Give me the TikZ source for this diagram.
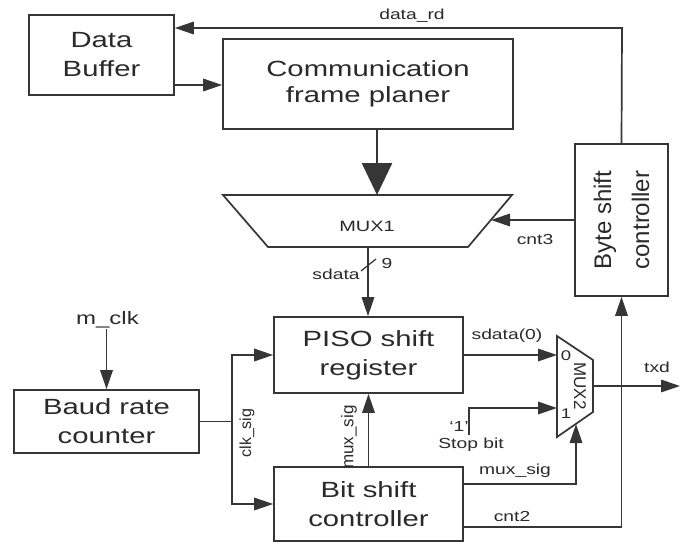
\documentclass[tikz,border=0pt]{standalone}
\usepackage{fontspec}
\setmainfont[FakeStretch=1.33]{Liberation Sans}
\newfontfamily\rotfont{Liberation Sans}
\usetikzlibrary{arrows.meta}
\definecolor{ln}{HTML}{363636}
\definecolor{tx}{HTML}{2A2A2A}
\begin{document}
\begin{tikzpicture}[x=1pt,y=-1pt,
  box/.style={draw=ln,line width=1.7pt,rectangle,inner sep=0pt,align=center,text=tx,font=\fontsize{22}{29}\selectfont},
  wire/.style={draw=ln,line width=1.7pt},
  tipa/.tip={Triangle[length=19pt,width=12.5pt]},
  arr/.style={wire,-tipa},
  lbl/.style={text=tx,inner sep=0pt,font=\fontsize{14.5}{17}\selectfont},
  rlbl/.style={text=tx,inner sep=0pt,rotate=90,font=\rotfont\fontsize{16}{19}\selectfont}]
\useasboundingbox (0,0) rectangle (682,543);
\fill[white] (0,0) rectangle (682,543);

% boxes
\node[box,minimum width=145pt,minimum height=80pt] (db) at (101.5,55) {Data\\Buffer};
\node[box,minimum width=290pt,minimum height=90pt,font=\fontsize{22}{26}\selectfont] (cfp) at (368,84) {Communication\\frame planer};
\node[box,minimum width=93pt,minimum height=152pt] (bsc) at (621.5,220) {};
\node[text=tx,inner sep=0pt,rotate=90,align=center,font=\rotfont\fontsize{24}{38}\selectfont] (bsct) at (bsc.center) {Byte shift\\controller};
\node[box,minimum width=185pt,minimum height=63pt] (brc) at (106.5,421.5) {Baud rate\\counter};
\node[box,minimum width=189pt,minimum height=76pt] (piso) at (368.5,355) {PISO shift\\register};
\node[box,minimum width=189pt,minimum height=74pt] (bit) at (368.5,504) {Bit shift\\controller};

% MUX1
\draw[wire] (223,195) -- (512,195) -- (468,247) -- (268,247) -- cycle;
\node[lbl,font=\fontsize{15}{18}\selectfont] (mux1) at (367,226) {MUX1};
\coordinate (m1t) at (377,195);
\coordinate (m1r) at (491,220);
\coordinate (m1b) at (368,247);

% MUX2
\draw[wire] (557,336) -- (593,360) -- (593,412) -- (557,437) -- cycle;
\node[text=tx,inner sep=0pt,rotate=-90,font=\rotfont\fontsize{17}{18}\selectfont] (mux2) at (580,386) {MUX2};
\node[lbl,font=\fontsize{14}{16}\selectfont] (in0) at (566,356) {0};
\node[lbl,font=\fontsize{14}{16}\selectfont] (in1) at (566,414) {1};
\coordinate (m2l) at (557,386);
\coordinate (m2o) at (593,386);
\coordinate (m2s) at (576,424);
\coordinate (txo) at (680,386);

% data_rd
\coordinate (rdc) at (622,28);
\draw[arr] (bsc.north) -- (rdc) -- (rdc -| db.east);
\node[lbl] (lrd) at (412,16) {data\_rd};

% Data buffer -> CFP
\draw[arr] ([yshift=-30pt]db.east) -- ([yshift=-30pt]db.east -| cfp.west);

% CFP -> MUX1 (big arrow)
\draw[draw=ln,line width=2.6pt,-{Triangle[length=32pt,width=30pt]}] (m1t |- cfp.south) -- (m1t);

% cnt3
\draw[arr] (bsc.west) -- (m1r);
\node[lbl] (lc3) at (535,240) {cnt3};

% sdata
\draw[arr] (m1b) -- (m1b |- piso.north);
\draw[draw=ln,line width=1.2pt] (361,271) -- (376,259);
\node[lbl] (l9) at (387,264) {9};
\node[lbl] (lsd) at (336,274) {sdata};

% m_clk
\node[lbl,font=\fontsize{18}{20}\selectfont] (mclk) at (107.5,320) {m\_clk};
\draw[arr] (brc.north |- mclk.south) -- (brc.north);

% clk_sig
\coordinate (cj) at (232,421.5);
\draw[wire] (brc.east) -- (cj);
\draw[wire,tipa-tipa] (piso.west) -- (piso.west -| cj) -- (bit.west -| cj) -- (bit.west);
\node[rlbl] (lck) at (247,433) {clk\_sig};

% mux_sig up
\draw[arr] (bit.north) -- (piso.south);
\node[rlbl,font=\rotfont\fontsize{17}{19}\selectfont] (lms1) at (349,437) {mux\_sig};

% sdata(0)
\draw[arr] (piso.east) -- (piso.east -| m2l);
\node[lbl] (lsd0) at (507,336) {sdata(0)};

% stop bit
\coordinate (sb) at (469,435);
\draw[arr] (sb) -- (469,408) -- (557,408);
\node[lbl] (l1) at (459,427) {`1'};
\node[lbl] (lsb) at (471,445) {Stop bit};

% mux_sig -> MUX2 select
\draw[arr] ([yshift=20pt]bit.east) -- ([yshift=20pt]bit.east -| m2s) -- (m2s);
\node[lbl] (lms2) at (515,471) {mux\_sig};

% cnt2
\draw[arr] ([yshift=-23pt]bit.east) -- ([yshift=-23pt]bit.east -| bsc.south) -- (bsc.south);
\node[lbl] (lc2) at (512,517) {cnt2};

% txd
\draw[arr] (m2o) -- (txo);
\node[lbl] (ltxd) at (657,367) {txd};
\end{tikzpicture}
\end{document}
